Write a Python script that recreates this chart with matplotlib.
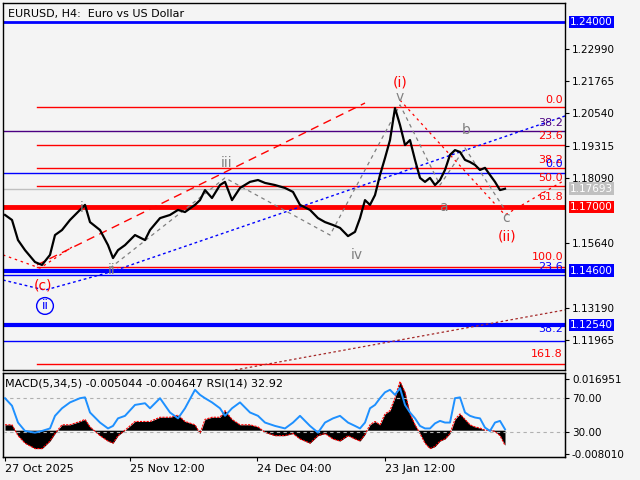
import numpy as np
import matplotlib.pyplot as plt

plt.rcParams["font.family"] = ["DejaVu Sans"]
BG = "#f4f4f4"
RED = "#ff0000"
BLUE = "#0000ff"
GRAY = "#808080"
PURPLE = "#4b0082"

# ── price (bar position, close) ──
BARS = [5, 12, 18, 25, 35, 42, 50, 55, 62, 70, 80, 85, 90, 100, 108, 113, 118, 125, 135, 145,
        150, 160, 170, 178, 185, 195, 200, 205, 212, 220, 225, 232, 240, 250, 258, 265, 275, 285, 293, 300,
        310, 318, 325, 333, 340, 348, 355, 360, 365, 370, 375, 380, 385, 390, 395, 400, 405, 410, 415, 420,
        425, 430, 435, 440, 445, 450, 455, 460, 465, 470, 475, 480, 485, 490, 495, 500, 505]
CLOSE = [1.1670, 1.1651, 1.1575, 1.1537, 1.1492, 1.1481, 1.1519, 1.1594, 1.1613, 1.1651,
         1.1689, 1.1708, 1.1643, 1.1613, 1.1556, 1.1507, 1.1537, 1.1556, 1.1594, 1.1575,
         1.1613, 1.1658, 1.1670, 1.1689, 1.1681, 1.1708, 1.1726, 1.1764, 1.1734, 1.1783,
         1.1795, 1.1726, 1.1772, 1.1795, 1.1802, 1.1791, 1.1783, 1.1772, 1.1757, 1.1708,
         1.1689, 1.1658, 1.1643, 1.1632, 1.1621, 1.1590, 1.1606, 1.1658, 1.1726, 1.1708,
         1.1745, 1.1821, 1.1885, 1.1953, 1.2074, 1.2010, 1.1934, 1.1953, 1.1878, 1.1810,
         1.1795, 1.1810, 1.1783, 1.1802, 1.1840, 1.1897, 1.1915, 1.1908, 1.1878, 1.1870,
         1.1859, 1.1840, 1.1848, 1.1821, 1.1795, 1.1764, 1.1769]
MACD_E3 = [1.8, 1.8, -1.8, -4.3, -6.1, -6.1, -3.6, -1.1, 1.8, 1.8,
           2.9, 3.6, 1.1, -1.8, -3.6, -4.3, -1.8, 0.0, 2.9, 2.9,
           2.9, 4.3, 4.3, 5.0, 2.9, 1.8, -1.1, 3.6, 4.3, 4.3,
           6.5, 3.6, 1.8, 1.8, 1.1, -0.7, -1.8, -1.8, -1.1, -2.9,
           -4.3, -1.8, -1.1, -2.9, -3.6, -1.8, -2.9, -3.6, -1.4, 1.8,
           2.9, 1.8, 5.4, 6.5, 10.8, 16.2, 12.6, 5.4, 1.8, -1.1,
           -4.3, -6.1, -5.4, -3.6, -2.9, -1.1, 3.6, 5.4, 3.6, 1.8,
           1.1, 0.7, 0.0, 0.0, -0.4, -1.8, -5.0]
RSI = [70, 61, 41, 31, 29, 31, 34, 49, 58, 65, 70, 71, 53, 41, 34, 37, 46, 49, 62, 64,
       58, 70, 53, 46, 58, 80, 74, 70, 65, 58, 49, 58, 65, 53, 49, 41, 37, 34, 41, 49,
       37, 29, 41, 46, 49, 41, 37, 34, 41, 58, 62, 70, 77, 80, 74, 82, 62, 53, 46, 37,
       34, 34, 40, 43, 41, 41, 70, 71, 53, 49, 47, 46, 35, 31, 41, 43, 33]

# ── horizontal levels: (price, colour, width, start bar) ──
LEVELS = [(1.2400, BLUE, 2.0, 3), (1.2078, RED, 1.0, 37), (1.1987, PURPLE, 1.0, 3),
          (1.1934, RED, 1.0, 37), (1.1847, RED, 1.0, 37), (1.1829, BLUE, 1.0, 3),
          (1.17693, "#c0c0c0", 1.0, 3), (1.1779, RED, 1.0, 37), (1.1700, RED, 3.5, 3),
          (1.1473, RED, 1.0, 37), (1.1460, BLUE, 3.0, 3), (1.1443, BLUE, 1.0, 3),
          (1.1254, BLUE, 3.0, 3), (1.1194, BLUE, 1.0, 3), (1.1107, RED, 1.0, 37)]
FIB_TEXT = [("0.0", RED, 1.2104), ("38.2", PURPLE, 1.2018), ("23.6", RED, 1.1968),
            ("38.2", RED, 1.1878), ("0.0", BLUE, 1.1862), ("50.0", RED, 1.1810),
            ("61.8", RED, 1.1738), ("100.0", RED, 1.1511), ("23.6", BLUE, 1.1473),
            ("38.2", BLUE, 1.1239), ("161.8", RED, 1.1144)]
AXIS_TICKS = [1.22990, 1.21765, 1.20540, 1.19315, 1.18090, 1.15640, 1.13190, 1.11965]
PRICE_BOXES = [(1.24000, BLUE, "white"), (1.17693, "#c0c0c0", "white"),
               (1.17000, RED, "white"), (1.14600, BLUE, "white"), (1.12540, BLUE, "white")]

# ── wave drawing lines ──
RED_CHANNEL = ([37, 365], [1.1481, 1.2093])
BLUE_DOTTED = ([3, 45, 110, 565], [1.1424, 1.1386, 1.1454, 1.2044])
GRAY_ZIGZAG = ([110, 225, 330, 400, 440, 465, 505], [1.1469, 1.1810, 1.1594, 1.2086, 1.1783, 1.1923, 1.1689])
RED_DOT_A = ([400, 505, 565], [1.2104, 1.1670, 1.1802])
RED_DOT_C = ([3, 40, 75], [1.1519, 1.1469, 1.1556])
BROWN_DOT = ([235, 565], [1.1084, 1.1311])
WAVE_LABELS = [("(i)", RED, 400, 1.2172), ("v", GRAY, 400, 1.2116), ("b", GRAY, 466, 1.1991),
               ("a", GRAY, 443, 1.1700), ("c", GRAY, 506, 1.1658), ("(ii)", RED, 507, 1.1590),
               ("iv", GRAY, 357, 1.1519), ("iii", GRAY, 227, 1.1866), ("i", GRAY, 82, 1.1696),
               ("ii", GRAY, 112, 1.1462), ("(c)", RED, 43, 1.1405)]
XTICKS = [5, 130, 257, 385]
XLABELS = ["27 Oct 2025", "25 Nov 12:00", "24 Dec 04:00", "23 Jan 12:00"]

fig = plt.figure(figsize=(6.4, 4.8), dpi=100, facecolor=BG)
ax = fig.add_axes([3 / 640, 110 / 480, 562 / 640, 367 / 480], facecolor=BG)
am = fig.add_axes([3 / 640, 23 / 480, 562 / 640, 84 / 480], facecolor=BG)

ylo, yhi = 1.1084, 1.2471
for a in (ax, am):
    a.set_xlim(3, 565)
    for s in a.spines.values():
        s.set_color("black")
        s.set_linewidth(1)
ax.set_ylim(ylo, yhi)

for p, c, w, x0 in LEVELS:
    ax.plot([x0, 565], [p, p], color=c, lw=w, zorder=1)
for t, c, p in FIB_TEXT:
    ax.text(563, p, t, color=c, fontsize=8, ha="right", va="center", zorder=3)

ax.plot(*RED_CHANNEL, color=RED, lw=1, ls=(0, (6, 4)))
ax.plot(*BLUE_DOTTED, color=BLUE, lw=1, ls=(0, (2, 2)))
ax.plot(*GRAY_ZIGZAG, color=GRAY, lw=0.9, ls=(0, (3, 3)))
ax.plot(*RED_DOT_A, color=RED, lw=0.9, ls=(0, (2, 3)))
ax.plot(*RED_DOT_C, color=RED, lw=0.9, ls=(0, (2, 3)))
ax.plot(*BROWN_DOT, color="#a52a2a", lw=0.9, ls=(0, (2, 2)))

ax.plot(BARS, CLOSE, color="black", lw=1.6, zorder=4)

for t, c, x, p in WAVE_LABELS:
    ax.text(x, p, t, color=c, fontsize=10, ha="center", va="center", zorder=5)
ax.text(45, 1.1326, "ii", color=BLUE, fontsize=9, ha="center", va="center",
        bbox=dict(boxstyle="circle,pad=0.15", fc="none", ec=BLUE, lw=1))
ax.text(8, 1.2428, "EURUSD, H4:  Euro vs US Dollar", fontsize=8, va="center")

ax.yaxis.tick_right()
ax.set_yticks(AXIS_TICKS)
ax.set_yticklabels([f"{v:.5f}" for v in AXIS_TICKS], fontsize=7.5)
ax.tick_params(axis="y", length=3, pad=2)
ax.set_xticks([])
for p, fc, tc in PRICE_BOXES:
    ax.text(570, p, f"{p:.5f}", color=tc, fontsize=7.5, va="center", ha="left", clip_on=False,
            zorder=6, bbox=dict(boxstyle="square,pad=0.12", fc=fc, ec="none"))

# ── MACD / RSI panel ──
macd = np.array(MACD_E3) * 1e-3
am.set_ylim(-0.0089, 0.0190)
am.fill_between(BARS, 0, macd, color="black", lw=0)
am.plot(BARS, macd, color=RED, lw=0.8, ls=(0, (2, 1)))
ar = am.twinx()
ar.set_xlim(3, 565)
ar.set_ylim(0, 100)
ar.axhline(70, color="#b0b0b0", lw=0.8, ls=(0, (3, 3)))
ar.axhline(30, color="#b0b0b0", lw=0.8, ls=(0, (3, 3)))
ar.plot(BARS, RSI, color="#1e90ff", lw=1.4)
ar.set_yticks([70, 30])
ar.set_yticklabels(["70.00", "30.00"], fontsize=7.5)
ar.tick_params(axis="y", length=3, pad=2)
am.yaxis.tick_right()
am.set_yticks([0.016951, -0.008010])
am.set_yticklabels(["0.016951", "-0.008010"], fontsize=7.5)
am.text(5, 0.0155, "MACD(5,34,5) -0.005044 -0.004647 RSI(14) 32.92", fontsize=8, va="center")
am.set_xticks(XTICKS)
am.set_xticklabels(XLABELS, fontsize=8, ha="left")
am.tick_params(axis="x", length=3, pad=2)
am.tick_params(axis="y", length=3, pad=2)

fig.savefig("out.png", dpi=100, facecolor=BG)
